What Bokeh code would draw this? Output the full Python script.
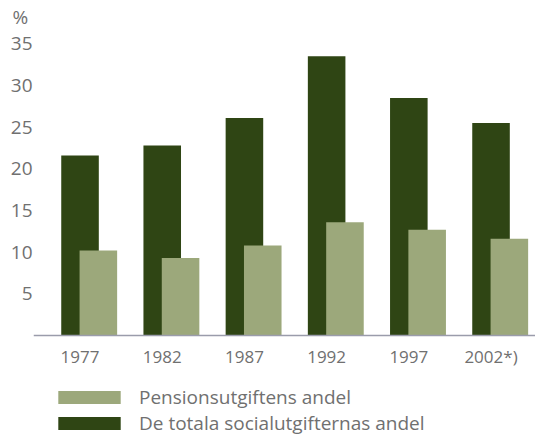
from bokeh.plotting import figure
from bokeh.models import Range1d, FixedTicker, Legend, LegendItem
from bokeh.embed import file_html
from bokeh.resources import INLINE

categories = ["1977", "1982", "1987", "1992", "1997", "2002*)"]
total_share = [21.6, 22.8, 26.1, 33.5, 28.5, 25.5]
pension_share = [10.2, 9.3, 10.8, 13.6, 12.7, 11.6]
y_ticks = [5, 10, 15, 20, 25, 30, 35]

DARK = "#2f4514"
LIGHT = "#9ca87b"
TEXT = "#707070"
FONT = "Open Sans"

pos = list(range(len(categories)))
light_pos = [i + 0.223 for i in pos]

p = figure(width=535, height=436, x_range=Range1d(-0.566, 5.541), y_range=Range1d(-12.12, 36.6),
           output_backend="svg", toolbar_location=None,
           min_border_left=33, min_border_right=0, min_border_top=30, min_border_bottom=0)
p.outline_line_color = None
p.xgrid.grid_line_color = None
p.ygrid.grid_line_color = None
p.background_fill_color = "white"

p.title.text = "%"
p.title.align = "left"
p.title.offset = -21
p.title.standoff = 2
p.title.text_font = FONT
p.title.text_font_size = "19px"
p.title.text_font_style = "normal"
p.title.text_color = TEXT

r_dark = p.vbar(x=pos, top=total_share, width=0.457, bottom=0, fill_color=DARK, line_color=None)
r_light = p.vbar(x=light_pos, top=pension_share, width=0.457, bottom=0, fill_color=LIGHT, line_color=None)

p.xaxis.fixed_location = 0
p.xaxis.ticker = FixedTicker(ticks=pos)
p.xaxis.major_label_overrides = {i: c for i, c in zip(pos, categories)}
p.xaxis.axis_line_color = "#9a9cab"
p.xaxis.axis_line_width = 1.5
p.xaxis.major_tick_line_color = None
p.xaxis.minor_tick_line_color = None
p.xaxis.major_tick_out = 0
p.xaxis.major_label_standoff = 9
p.xaxis.major_label_text_font = FONT
p.xaxis.major_label_text_font_size = "17px"
p.xaxis.major_label_text_color = TEXT

p.yaxis.ticker = FixedTicker(ticks=y_ticks)
p.yaxis.axis_line_color = None
p.yaxis.major_tick_line_color = None
p.yaxis.minor_tick_line_color = None
p.yaxis.major_tick_out = 0
p.yaxis.major_label_standoff = 1
p.yaxis.major_label_text_font = FONT
p.yaxis.major_label_text_font_size = "19px"
p.yaxis.major_label_text_color = TEXT

legend = Legend(items=[LegendItem(label="Pensionsutgiftens andel", renderers=[r_light]),
                       LegendItem(label="De totala socialutgifternas andel", renderers=[r_dark])],
                location=(17, 0), orientation="vertical",
                glyph_width=78, glyph_height=16, label_standoff=11, label_height=26,
                spacing=0, padding=0, margin=0,
                border_line_color=None, background_fill_color=None,
                label_text_font=FONT, label_text_font_size="19px", label_text_color=TEXT)
p.add_layout(legend)

open("out.html", "w").write(file_html(p, INLINE))
